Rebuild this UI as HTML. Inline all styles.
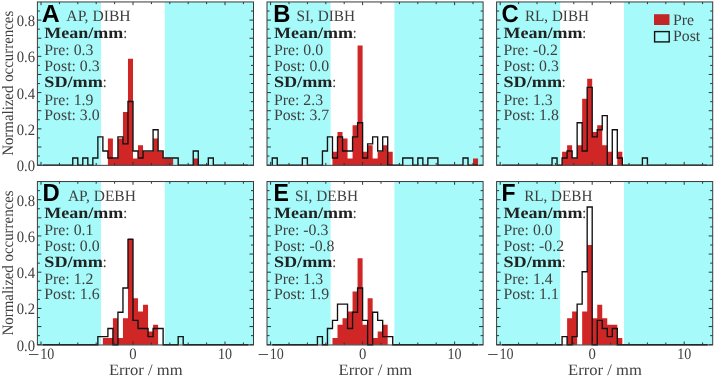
<!DOCTYPE html><html><head><meta charset="utf-8"><style>html,body{margin:0;padding:0;background:#fff;-webkit-font-smoothing:antialiased;}svg{display:block;will-change:transform;} text{text-rendering:geometricPrecision;}.s{font-family:"Liberation Serif",serif;fill:#404040;}.b{font-family:"Liberation Serif",serif;font-weight:bold;fill:#222;}.L{font-family:"Liberation Sans",sans-serif;font-weight:bold;fill:#000;}</style></head><body>
<svg width="714" height="380" viewBox="0 0 714 380">
<rect x="37.4" y="1.95" width="63.6" height="163.15" fill="#a6fafa"/>
<rect x="164.8" y="1.95" width="88.7" height="163.15" fill="#a6fafa"/>
<path d="M107.9 165.1H112.92V138.53H107.9ZM112.92 165.1H117.94V158.46H112.92ZM117.94 165.1H122.96V138.53H117.94ZM122.96 165.1H127.98V111.95H122.96ZM127.98 165.1H133V58.81H127.98ZM133 165.1H138.02V158.46H133ZM138.02 165.1H143.04V145.17H138.02ZM143.04 165.1H148.06V151.81H143.04ZM148.06 165.1H153.08V151.81H148.06ZM153.08 165.1H158.1V138.53H153.08ZM158.1 165.1H163.12V151.81H158.1ZM163.12 165.1H168.14V158.46H163.12ZM168.14 165.1H173.16V158.46H168.14ZM193.24 165.1H198.26V158.46H193.24Z" fill="#c80000" fill-opacity="0.85"/>
<path d="M42.64 165.1 L72.76 165.1 L72.76 158.03 L77.78 158.03 L77.78 165.1 L82.8 165.1 L82.8 158.03 L87.82 158.03 L87.82 165.1 L92.84 165.1 L92.84 158.03 L97.86 158.03 L97.86 136.83 L102.88 136.83 L102.88 150.97 L107.9 150.97 L107.9 158.03 L117.94 158.03 L117.94 136.83 L122.96 136.83 L122.96 143.9 L127.98 143.9 L127.98 101.49 L133 101.49 L133 150.97 L138.02 150.97 L138.02 158.03 L143.04 158.03 L143.04 150.97 L153.08 150.97 L153.08 129.76 L158.1 129.76 L158.1 150.97 L163.12 150.97 L163.12 158.03 L178.18 158.03 L178.18 165.1 L193.24 165.1 L193.24 150.97 L198.26 150.97 L198.26 165.1 L208.3 165.1 L208.3 158.03 L213.32 158.03 L213.32 165.1 L248.46 165.1" fill="none" stroke="#111" stroke-width="1.35" stroke-linejoin="miter"/>
<path d="M41 165.1 v-3.2 M41 1.95 v3.2 M59.4 165.1 v-2.2 M59.4 1.95 v2.2 M77.8 165.1 v-2.2 M77.8 1.95 v2.2 M96.2 165.1 v-2.2 M96.2 1.95 v2.2 M114.6 165.1 v-2.2 M114.6 1.95 v2.2 M133 165.1 v-3.2 M133 1.95 v3.2 M151.4 165.1 v-2.2 M151.4 1.95 v2.2 M169.8 165.1 v-2.2 M169.8 1.95 v2.2 M188.2 165.1 v-2.2 M188.2 1.95 v2.2 M206.6 165.1 v-2.2 M206.6 1.95 v2.2 M225 165.1 v-3.2 M225 1.95 v3.2 M243.4 165.1 v-2.2 M243.4 1.95 v2.2 M37.4 165.1 h4 M253.5 165.1 h-4 M37.4 156.04 h2.5 M253.5 156.04 h-2.5 M37.4 146.97 h4 M253.5 146.97 h-4 M37.4 137.91 h2.5 M253.5 137.91 h-2.5 M37.4 128.85 h4 M253.5 128.85 h-4 M37.4 119.79 h2.5 M253.5 119.79 h-2.5 M37.4 110.72 h4 M253.5 110.72 h-4 M37.4 101.66 h2.5 M253.5 101.66 h-2.5 M37.4 92.6 h4 M253.5 92.6 h-4 M37.4 83.54 h2.5 M253.5 83.54 h-2.5 M37.4 74.47 h4 M253.5 74.47 h-4 M37.4 65.41 h2.5 M253.5 65.41 h-2.5 M37.4 56.35 h4 M253.5 56.35 h-4 M37.4 47.29 h2.5 M253.5 47.29 h-2.5 M37.4 38.22 h4 M253.5 38.22 h-4 M37.4 29.16 h2.5 M253.5 29.16 h-2.5 M37.4 20.1 h4 M253.5 20.1 h-4 M37.4 11.04 h2.5 M253.5 11.04 h-2.5" stroke="#333" stroke-width="1" fill="none"/>
<rect x="37.4" y="1.95" width="216.1" height="163.4" fill="none" stroke="#3a3a3a" stroke-width="1.0"/>
<text class="L" x="41.8" y="21.75" font-size="24.8">A</text>
<text class="s" font-size="15.8" transform="translate(66.34 20.7) scale(0.99 1)">AP, DIBH</text>
<text class="b" font-size="15.8" transform="translate(44.3 38.15) scale(1.14 1)">Mean/mm</text>
<text class="s" x="122.9" y="38.15" font-size="15.8">:</text>
<text class="s" x="44.3" y="55.25" font-size="15.8">Pre: 0.3</text>
<text class="s" x="44.3" y="70.95" font-size="15.8">Post: 0.3</text>
<text class="b" font-size="15.8" transform="translate(44.3 87.35) scale(1.15 1)">SD/mm</text>
<text class="s" x="102.4" y="87.35" font-size="15.8">:</text>
<text class="s" x="44.3" y="104.65" font-size="15.8">Pre: 1.9</text>
<text class="s" x="44.3" y="119.85" font-size="15.8">Post: 3.0</text>
<rect x="267" y="1.95" width="63.6" height="163.15" fill="#a6fafa"/>
<rect x="394.4" y="1.95" width="88.7" height="163.15" fill="#a6fafa"/>
<path d="M332.48 165.1H337.5V151.81H332.48ZM337.5 165.1H342.52V131.88H337.5ZM342.52 165.1H347.54V138.53H342.52ZM347.54 165.1H352.56V158.46H347.54ZM352.56 165.1H357.58V125.24H352.56ZM357.58 165.1H362.6V45.52H357.58ZM362.6 165.1H367.62V151.81H362.6ZM367.62 165.1H372.64V145.17H367.62ZM372.64 165.1H377.66V158.46H372.64ZM377.66 165.1H382.68V151.81H377.66ZM382.68 165.1H387.7V145.17H382.68ZM387.7 165.1H392.72V151.81H387.7ZM473.04 165.1H478.06V158.46H473.04Z" fill="#c80000" fill-opacity="0.85"/>
<path d="M272.24 165.1 L272.24 158.03 L277.26 158.03 L277.26 165.1 L302.36 165.1 L302.36 158.03 L307.38 158.03 L307.38 165.1 L322.44 165.1 L322.44 150.97 L327.46 150.97 L327.46 136.83 L332.48 136.83 L332.48 158.03 L337.5 158.03 L337.5 136.83 L342.52 136.83 L342.52 150.97 L352.56 150.97 L352.56 136.83 L357.58 136.83 L357.58 122.7 L362.6 122.7 L362.6 158.03 L367.62 158.03 L367.62 143.9 L372.64 143.9 L372.64 136.83 L377.66 136.83 L377.66 150.97 L382.68 150.97 L382.68 136.83 L387.7 136.83 L387.7 165.1 L402.76 165.1 L402.76 158.03 L412.8 158.03 L412.8 165.1 L417.82 165.1 L417.82 158.03 L422.84 158.03 L422.84 165.1 L427.86 165.1 L427.86 158.03 L437.9 158.03 L437.9 165.1 L463 165.1 L463 158.03 L468.02 158.03 L468.02 165.1 L478.06 165.1" fill="none" stroke="#111" stroke-width="1.35" stroke-linejoin="miter"/>
<path d="M270.6 165.1 v-3.2 M270.6 1.95 v3.2 M289 165.1 v-2.2 M289 1.95 v2.2 M307.4 165.1 v-2.2 M307.4 1.95 v2.2 M325.8 165.1 v-2.2 M325.8 1.95 v2.2 M344.2 165.1 v-2.2 M344.2 1.95 v2.2 M362.6 165.1 v-3.2 M362.6 1.95 v3.2 M381 165.1 v-2.2 M381 1.95 v2.2 M399.4 165.1 v-2.2 M399.4 1.95 v2.2 M417.8 165.1 v-2.2 M417.8 1.95 v2.2 M436.2 165.1 v-2.2 M436.2 1.95 v2.2 M454.6 165.1 v-3.2 M454.6 1.95 v3.2 M473 165.1 v-2.2 M473 1.95 v2.2 M267 165.1 h4 M483.1 165.1 h-4 M267 156.04 h2.5 M483.1 156.04 h-2.5 M267 146.97 h4 M483.1 146.97 h-4 M267 137.91 h2.5 M483.1 137.91 h-2.5 M267 128.85 h4 M483.1 128.85 h-4 M267 119.79 h2.5 M483.1 119.79 h-2.5 M267 110.72 h4 M483.1 110.72 h-4 M267 101.66 h2.5 M483.1 101.66 h-2.5 M267 92.6 h4 M483.1 92.6 h-4 M267 83.54 h2.5 M483.1 83.54 h-2.5 M267 74.47 h4 M483.1 74.47 h-4 M267 65.41 h2.5 M483.1 65.41 h-2.5 M267 56.35 h4 M483.1 56.35 h-4 M267 47.29 h2.5 M483.1 47.29 h-2.5 M267 38.22 h4 M483.1 38.22 h-4 M267 29.16 h2.5 M483.1 29.16 h-2.5 M267 20.1 h4 M483.1 20.1 h-4 M267 11.04 h2.5 M483.1 11.04 h-2.5" stroke="#333" stroke-width="1" fill="none"/>
<rect x="267" y="1.95" width="216.1" height="163.4" fill="none" stroke="#3a3a3a" stroke-width="1.0"/>
<text class="L" font-size="24.8" transform="translate(273.2 21.75) scale(0.96 1)">B</text>
<text class="s" font-size="15.8" transform="translate(296.4 20.7) scale(0.97 1)">SI, DIBH</text>
<text class="b" font-size="15.8" transform="translate(273.9 38.15) scale(1.14 1)">Mean/mm</text>
<text class="s" x="352.5" y="38.15" font-size="15.8">:</text>
<text class="s" x="273.9" y="55.25" font-size="15.8">Pre: 0.0</text>
<text class="s" x="273.9" y="70.95" font-size="15.8">Post: 0.0</text>
<text class="b" font-size="15.8" transform="translate(273.9 87.35) scale(1.15 1)">SD/mm</text>
<text class="s" x="332" y="87.35" font-size="15.8">:</text>
<text class="s" x="273.9" y="104.65" font-size="15.8">Pre: 2.3</text>
<text class="s" x="273.9" y="119.85" font-size="15.8">Post: 3.7</text>
<rect x="496.6" y="1.95" width="63.6" height="163.15" fill="#a6fafa"/>
<rect x="624" y="1.95" width="88.7" height="163.15" fill="#a6fafa"/>
<path d="M562.08 165.1H567.1V151.81H562.08ZM567.1 165.1H572.12V145.17H567.1ZM572.12 165.1H577.14V158.46H572.12ZM577.14 165.1H582.16V145.17H577.14ZM582.16 165.1H587.18V98.67H582.16ZM587.18 165.1H592.2V78.74H587.18ZM592.2 165.1H597.22V131.88H592.2ZM597.22 165.1H602.24V125.24H597.22ZM602.24 165.1H607.26V145.17H602.24ZM607.26 165.1H612.28V151.81H607.26ZM617.3 165.1H622.32V151.81H617.3Z" fill="#c80000" fill-opacity="0.85"/>
<path d="M501.84 165.1 L552.04 165.1 L552.04 158.03 L557.06 158.03 L557.06 165.1 L562.08 165.1 L562.08 158.03 L567.1 158.03 L567.1 150.97 L572.12 150.97 L572.12 158.03 L577.14 158.03 L577.14 122.7 L582.16 122.7 L582.16 150.97 L587.18 150.97 L587.18 87.36 L592.2 87.36 L592.2 136.83 L597.22 136.83 L597.22 129.76 L602.24 129.76 L602.24 115.63 L607.26 115.63 L607.26 165.1 L612.28 165.1 L612.28 129.76 L617.3 129.76 L617.3 158.03 L622.32 158.03 L622.32 165.1 L642.4 165.1 L642.4 158.03 L647.42 158.03 L647.42 165.1 L707.66 165.1" fill="none" stroke="#111" stroke-width="1.35" stroke-linejoin="miter"/>
<path d="M500.2 165.1 v-3.2 M500.2 1.95 v3.2 M518.6 165.1 v-2.2 M518.6 1.95 v2.2 M537 165.1 v-2.2 M537 1.95 v2.2 M555.4 165.1 v-2.2 M555.4 1.95 v2.2 M573.8 165.1 v-2.2 M573.8 1.95 v2.2 M592.2 165.1 v-3.2 M592.2 1.95 v3.2 M610.6 165.1 v-2.2 M610.6 1.95 v2.2 M629 165.1 v-2.2 M629 1.95 v2.2 M647.4 165.1 v-2.2 M647.4 1.95 v2.2 M665.8 165.1 v-2.2 M665.8 1.95 v2.2 M684.2 165.1 v-3.2 M684.2 1.95 v3.2 M702.6 165.1 v-2.2 M702.6 1.95 v2.2 M496.6 165.1 h4 M712.7 165.1 h-4 M496.6 156.04 h2.5 M712.7 156.04 h-2.5 M496.6 146.97 h4 M712.7 146.97 h-4 M496.6 137.91 h2.5 M712.7 137.91 h-2.5 M496.6 128.85 h4 M712.7 128.85 h-4 M496.6 119.79 h2.5 M712.7 119.79 h-2.5 M496.6 110.72 h4 M712.7 110.72 h-4 M496.6 101.66 h2.5 M712.7 101.66 h-2.5 M496.6 92.6 h4 M712.7 92.6 h-4 M496.6 83.54 h2.5 M712.7 83.54 h-2.5 M496.6 74.47 h4 M712.7 74.47 h-4 M496.6 65.41 h2.5 M712.7 65.41 h-2.5 M496.6 56.35 h4 M712.7 56.35 h-4 M496.6 47.29 h2.5 M712.7 47.29 h-2.5 M496.6 38.22 h4 M712.7 38.22 h-4 M496.6 29.16 h2.5 M712.7 29.16 h-2.5 M496.6 20.1 h4 M712.7 20.1 h-4 M496.6 11.04 h2.5 M712.7 11.04 h-2.5" stroke="#333" stroke-width="1" fill="none"/>
<rect x="496.6" y="1.95" width="216.1" height="163.4" fill="none" stroke="#3a3a3a" stroke-width="1.0"/>
<text class="L" font-size="24.8" transform="translate(501.6 21.75) scale(0.96 1)">C</text>
<text class="s" font-size="15.8" transform="translate(524.96 20.7) scale(0.96 1)">RL, DIBH</text>
<text class="b" font-size="15.8" transform="translate(503.5 38.15) scale(1.14 1)">Mean/mm</text>
<text class="s" x="582.1" y="38.15" font-size="15.8">:</text>
<text class="s" x="503.5" y="55.25" font-size="15.8">Pre: -0.2</text>
<text class="s" x="503.5" y="70.95" font-size="15.8">Post: 0.3</text>
<text class="b" font-size="15.8" transform="translate(503.5 87.35) scale(1.15 1)">SD/mm</text>
<text class="s" x="561.6" y="87.35" font-size="15.8">:</text>
<text class="s" x="503.5" y="104.65" font-size="15.8">Pre: 1.3</text>
<text class="s" x="503.5" y="119.85" font-size="15.8">Post: 1.8</text>
<rect x="37.4" y="181.55" width="63.6" height="163.15" fill="#a6fafa"/>
<rect x="164.8" y="181.55" width="88.7" height="163.15" fill="#a6fafa"/>
<path d="M102.88 344.7H107.9V338.06H102.88ZM107.9 344.7H112.92V338.06H107.9ZM112.92 344.7H117.94V318.13H112.92ZM117.94 344.7H122.96V338.06H117.94ZM122.96 344.7H127.98V318.13H122.96ZM127.98 344.7H133V238.41H127.98ZM133 344.7H138.02V298.2H133ZM138.02 344.7H143.04V311.48H138.02ZM143.04 344.7H148.06V304.84H143.04ZM148.06 344.7H153.08V331.41H148.06ZM153.08 344.7H158.1V324.77H153.08Z" fill="#c80000" fill-opacity="0.85"/>
<path d="M42.64 344.7 L97.86 344.7 L97.86 336.6 L107.9 336.6 L107.9 328.5 L112.92 328.5 L112.92 344.7 L117.94 344.7 L117.94 312.29 L122.96 312.29 L122.96 287.99 L127.98 287.99 L127.98 239.38 L133 239.38 L133 320.39 L138.02 320.39 L138.02 328.5 L148.06 328.5 L148.06 336.6 L153.08 336.6 L153.08 328.5 L163.12 328.5 L163.12 344.7 L178.18 344.7 L178.18 336.6 L183.2 336.6 L183.2 344.7 L248.46 344.7" fill="none" stroke="#111" stroke-width="1.35" stroke-linejoin="miter"/>
<path d="M41 344.7 v-3.2 M41 181.55 v3.2 M59.4 344.7 v-2.2 M59.4 181.55 v2.2 M77.8 344.7 v-2.2 M77.8 181.55 v2.2 M96.2 344.7 v-2.2 M96.2 181.55 v2.2 M114.6 344.7 v-2.2 M114.6 181.55 v2.2 M133 344.7 v-3.2 M133 181.55 v3.2 M151.4 344.7 v-2.2 M151.4 181.55 v2.2 M169.8 344.7 v-2.2 M169.8 181.55 v2.2 M188.2 344.7 v-2.2 M188.2 181.55 v2.2 M206.6 344.7 v-2.2 M206.6 181.55 v2.2 M225 344.7 v-3.2 M225 181.55 v3.2 M243.4 344.7 v-2.2 M243.4 181.55 v2.2 M37.4 344.7 h4 M253.5 344.7 h-4 M37.4 335.64 h2.5 M253.5 335.64 h-2.5 M37.4 326.57 h4 M253.5 326.57 h-4 M37.4 317.51 h2.5 M253.5 317.51 h-2.5 M37.4 308.45 h4 M253.5 308.45 h-4 M37.4 299.39 h2.5 M253.5 299.39 h-2.5 M37.4 290.32 h4 M253.5 290.32 h-4 M37.4 281.26 h2.5 M253.5 281.26 h-2.5 M37.4 272.2 h4 M253.5 272.2 h-4 M37.4 263.14 h2.5 M253.5 263.14 h-2.5 M37.4 254.07 h4 M253.5 254.07 h-4 M37.4 245.01 h2.5 M253.5 245.01 h-2.5 M37.4 235.95 h4 M253.5 235.95 h-4 M37.4 226.89 h2.5 M253.5 226.89 h-2.5 M37.4 217.82 h4 M253.5 217.82 h-4 M37.4 208.76 h2.5 M253.5 208.76 h-2.5 M37.4 199.7 h4 M253.5 199.7 h-4 M37.4 190.64 h2.5 M253.5 190.64 h-2.5" stroke="#333" stroke-width="1" fill="none"/>
<rect x="37.4" y="181.55" width="216.1" height="163.4" fill="none" stroke="#3a3a3a" stroke-width="1.0"/>
<text class="L" font-size="24.8" transform="translate(42.4 201.35) scale(0.96 1)">D</text>
<text class="s" font-size="15.8" transform="translate(67.9 201) scale(0.98 1)">AP, DEBH</text>
<text class="b" font-size="15.8" transform="translate(44.3 217.75) scale(1.14 1)">Mean/mm</text>
<text class="s" x="122.9" y="217.75" font-size="15.8">:</text>
<text class="s" x="44.3" y="234.85" font-size="15.8">Pre: 0.1</text>
<text class="s" x="44.3" y="250.55" font-size="15.8">Post: 0.0</text>
<text class="b" font-size="15.8" transform="translate(44.3 266.95) scale(1.15 1)">SD/mm</text>
<text class="s" x="102.4" y="266.95" font-size="15.8">:</text>
<text class="s" x="44.3" y="284.25" font-size="15.8">Pre: 1.2</text>
<text class="s" x="44.3" y="299.45" font-size="15.8">Post: 1.6</text>
<rect x="267" y="181.55" width="63.6" height="163.15" fill="#a6fafa"/>
<rect x="394.4" y="181.55" width="88.7" height="163.15" fill="#a6fafa"/>
<path d="M332.48 344.7H337.5V338.06H332.48ZM337.5 344.7H342.52V324.77H337.5ZM342.52 344.7H347.54V318.13H342.52ZM347.54 344.7H352.56V311.48H347.54ZM352.56 344.7H357.58V291.55H352.56ZM357.58 344.7H362.6V258.34H357.58ZM362.6 344.7H367.62V324.77H362.6ZM367.62 344.7H372.64V298.2H367.62ZM372.64 344.7H377.66V338.06H372.64ZM377.66 344.7H382.68V331.41H377.66ZM382.68 344.7H387.7V324.77H382.68Z" fill="#c80000" fill-opacity="0.85"/>
<path d="M272.24 344.7 L317.42 344.7 L317.42 336.6 L322.44 336.6 L322.44 344.7 L327.46 344.7 L327.46 328.5 L332.48 328.5 L332.48 320.39 L337.5 320.39 L337.5 304.19 L347.54 304.19 L347.54 328.5 L352.56 328.5 L352.56 312.29 L357.58 312.29 L357.58 287.99 L362.6 287.99 L362.6 320.39 L367.62 320.39 L367.62 344.7 L372.64 344.7 L372.64 312.29 L377.66 312.29 L377.66 320.39 L382.68 320.39 L382.68 336.6 L392.72 336.6 L392.72 344.7 L478.06 344.7" fill="none" stroke="#111" stroke-width="1.35" stroke-linejoin="miter"/>
<path d="M270.6 344.7 v-3.2 M270.6 181.55 v3.2 M289 344.7 v-2.2 M289 181.55 v2.2 M307.4 344.7 v-2.2 M307.4 181.55 v2.2 M325.8 344.7 v-2.2 M325.8 181.55 v2.2 M344.2 344.7 v-2.2 M344.2 181.55 v2.2 M362.6 344.7 v-3.2 M362.6 181.55 v3.2 M381 344.7 v-2.2 M381 181.55 v2.2 M399.4 344.7 v-2.2 M399.4 181.55 v2.2 M417.8 344.7 v-2.2 M417.8 181.55 v2.2 M436.2 344.7 v-2.2 M436.2 181.55 v2.2 M454.6 344.7 v-3.2 M454.6 181.55 v3.2 M473 344.7 v-2.2 M473 181.55 v2.2 M267 344.7 h4 M483.1 344.7 h-4 M267 335.64 h2.5 M483.1 335.64 h-2.5 M267 326.57 h4 M483.1 326.57 h-4 M267 317.51 h2.5 M483.1 317.51 h-2.5 M267 308.45 h4 M483.1 308.45 h-4 M267 299.39 h2.5 M483.1 299.39 h-2.5 M267 290.32 h4 M483.1 290.32 h-4 M267 281.26 h2.5 M483.1 281.26 h-2.5 M267 272.2 h4 M483.1 272.2 h-4 M267 263.14 h2.5 M483.1 263.14 h-2.5 M267 254.07 h4 M483.1 254.07 h-4 M267 245.01 h2.5 M483.1 245.01 h-2.5 M267 235.95 h4 M483.1 235.95 h-4 M267 226.89 h2.5 M483.1 226.89 h-2.5 M267 217.82 h4 M483.1 217.82 h-4 M267 208.76 h2.5 M483.1 208.76 h-2.5 M267 199.7 h4 M483.1 199.7 h-4 M267 190.64 h2.5 M483.1 190.64 h-2.5" stroke="#333" stroke-width="1" fill="none"/>
<rect x="267" y="181.55" width="216.1" height="163.4" fill="none" stroke="#3a3a3a" stroke-width="1.0"/>
<text class="L" font-size="24.8" transform="translate(273.4 201.35) scale(0.93 1)">E</text>
<text class="s" font-size="15.8" transform="translate(295 201) scale(0.97 1)">SI, DEBH</text>
<text class="b" font-size="15.8" transform="translate(273.9 217.75) scale(1.14 1)">Mean/mm</text>
<text class="s" x="352.5" y="217.75" font-size="15.8">:</text>
<text class="s" x="273.9" y="234.85" font-size="15.8">Pre: -0.3</text>
<text class="s" x="273.9" y="250.55" font-size="15.8">Post: -0.8</text>
<text class="b" font-size="15.8" transform="translate(273.9 266.95) scale(1.15 1)">SD/mm</text>
<text class="s" x="332" y="266.95" font-size="15.8">:</text>
<text class="s" x="273.9" y="284.25" font-size="15.8">Pre: 1.3</text>
<text class="s" x="273.9" y="299.45" font-size="15.8">Post: 1.9</text>
<rect x="496.6" y="181.55" width="63.6" height="163.15" fill="#a6fafa"/>
<rect x="624" y="181.55" width="88.7" height="163.15" fill="#a6fafa"/>
<path d="M567.1 344.7H572.12V318.13H567.1ZM572.12 344.7H577.14V311.48H572.12ZM582.16 344.7H587.18V311.48H582.16ZM587.18 344.7H592.2V245.05H587.18ZM592.2 344.7H597.22V318.13H592.2ZM597.22 344.7H602.24V304.84H597.22ZM602.24 344.7H607.26V318.13H602.24ZM607.26 344.7H612.28V324.77H607.26ZM612.28 344.7H617.3V324.77H612.28ZM617.3 344.7H622.32V338.06H617.3Z" fill="#c80000" fill-opacity="0.85"/>
<path d="M501.84 344.7 L562.08 344.7 L562.08 336.6 L567.1 336.6 L567.1 344.7 L572.12 344.7 L572.12 336.6 L577.14 336.6 L577.14 304.19 L582.16 304.19 L582.16 271.78 L587.18 271.78 L587.18 206.97 L592.2 206.97 L592.2 344.7 L597.22 344.7 L597.22 320.39 L602.24 320.39 L602.24 328.5 L607.26 328.5 L607.26 336.6 L612.28 336.6 L612.28 328.5 L617.3 328.5 L617.3 344.7 L707.66 344.7" fill="none" stroke="#111" stroke-width="1.35" stroke-linejoin="miter"/>
<path d="M500.2 344.7 v-3.2 M500.2 181.55 v3.2 M518.6 344.7 v-2.2 M518.6 181.55 v2.2 M537 344.7 v-2.2 M537 181.55 v2.2 M555.4 344.7 v-2.2 M555.4 181.55 v2.2 M573.8 344.7 v-2.2 M573.8 181.55 v2.2 M592.2 344.7 v-3.2 M592.2 181.55 v3.2 M610.6 344.7 v-2.2 M610.6 181.55 v2.2 M629 344.7 v-2.2 M629 181.55 v2.2 M647.4 344.7 v-2.2 M647.4 181.55 v2.2 M665.8 344.7 v-2.2 M665.8 181.55 v2.2 M684.2 344.7 v-3.2 M684.2 181.55 v3.2 M702.6 344.7 v-2.2 M702.6 181.55 v2.2 M496.6 344.7 h4 M712.7 344.7 h-4 M496.6 335.64 h2.5 M712.7 335.64 h-2.5 M496.6 326.57 h4 M712.7 326.57 h-4 M496.6 317.51 h2.5 M712.7 317.51 h-2.5 M496.6 308.45 h4 M712.7 308.45 h-4 M496.6 299.39 h2.5 M712.7 299.39 h-2.5 M496.6 290.32 h4 M712.7 290.32 h-4 M496.6 281.26 h2.5 M712.7 281.26 h-2.5 M496.6 272.2 h4 M712.7 272.2 h-4 M496.6 263.14 h2.5 M712.7 263.14 h-2.5 M496.6 254.07 h4 M712.7 254.07 h-4 M496.6 245.01 h2.5 M712.7 245.01 h-2.5 M496.6 235.95 h4 M712.7 235.95 h-4 M496.6 226.89 h2.5 M712.7 226.89 h-2.5 M496.6 217.82 h4 M712.7 217.82 h-4 M496.6 208.76 h2.5 M712.7 208.76 h-2.5 M496.6 199.7 h4 M712.7 199.7 h-4 M496.6 190.64 h2.5 M712.7 190.64 h-2.5" stroke="#333" stroke-width="1" fill="none"/>
<rect x="496.6" y="181.55" width="216.1" height="163.4" fill="none" stroke="#3a3a3a" stroke-width="1.0"/>
<text class="L" font-size="24.8" transform="translate(501.5 201.35) scale(0.93 1)">F</text>
<text class="s" font-size="15.8" transform="translate(524.16 201) scale(0.96 1)">RL, DEBH</text>
<text class="b" font-size="15.8" transform="translate(503.5 217.75) scale(1.14 1)">Mean/mm</text>
<text class="s" x="582.1" y="217.75" font-size="15.8">:</text>
<text class="s" x="503.5" y="234.85" font-size="15.8">Pre: 0.0</text>
<text class="s" x="503.5" y="250.55" font-size="15.8">Post: -0.2</text>
<text class="b" font-size="15.8" transform="translate(503.5 266.95) scale(1.15 1)">SD/mm</text>
<text class="s" x="561.6" y="266.95" font-size="15.8">:</text>
<text class="s" x="503.5" y="284.25" font-size="15.8">Pre: 1.4</text>
<text class="s" x="503.5" y="299.45" font-size="15.8">Post: 1.1</text>
<text class="s" font-size="15.8" text-anchor="middle" transform="translate(47.2 359.1) scale(0.89 1)">10</text>
<text class="s" font-size="15.8" text-anchor="middle" transform="translate(133 359.1) scale(0.93 1)">0</text>
<text class="s" font-size="15.8" text-anchor="middle" transform="translate(225 359.1) scale(0.89 1)">10</text>
<rect x="28.95" y="354.1" width="9.5" height="0.9" fill="#404040"/>
<text class="s" font-size="15.8" text-anchor="middle" transform="translate(145.75 375) scale(1.05 1)">Error / mm</text>
<text class="s" font-size="15.8" text-anchor="middle" transform="translate(276.8 359.1) scale(0.89 1)">10</text>
<text class="s" font-size="15.8" text-anchor="middle" transform="translate(362.6 359.1) scale(0.93 1)">0</text>
<text class="s" font-size="15.8" text-anchor="middle" transform="translate(454.6 359.1) scale(0.89 1)">10</text>
<rect x="258.55" y="354.1" width="9.5" height="0.9" fill="#404040"/>
<text class="s" font-size="15.8" text-anchor="middle" transform="translate(375.35 375) scale(1.05 1)">Error / mm</text>
<text class="s" font-size="15.8" text-anchor="middle" transform="translate(506.4 359.1) scale(0.89 1)">10</text>
<text class="s" font-size="15.8" text-anchor="middle" transform="translate(592.2 359.1) scale(0.93 1)">0</text>
<text class="s" font-size="15.8" text-anchor="middle" transform="translate(684.2 359.1) scale(0.89 1)">10</text>
<rect x="488.15" y="354.1" width="9.5" height="0.9" fill="#404040"/>
<text class="s" font-size="15.8" text-anchor="middle" transform="translate(604.95 375) scale(1.05 1)">Error / mm</text>
<text class="s" font-size="15.8" text-anchor="end" transform="translate(35.1 171) scale(0.93 1)">0.0</text>
<text class="s" font-size="15.8" text-anchor="end" transform="translate(35.1 134.75) scale(0.93 1)">0.2</text>
<text class="s" font-size="15.8" text-anchor="end" transform="translate(35.1 98.5) scale(0.93 1)">0.4</text>
<text class="s" font-size="15.8" text-anchor="end" transform="translate(35.1 62.25) scale(0.93 1)">0.6</text>
<text class="s" font-size="15.8" text-anchor="end" transform="translate(35.1 26) scale(0.93 1)">0.8</text>
<text class="s" font-size="15.8" text-anchor="middle" textLength="145" lengthAdjust="spacingAndGlyphs" transform="translate(12.7 83.32) rotate(-90)">Normalized occurrences</text>
<text class="s" font-size="15.8" text-anchor="end" transform="translate(35.1 350.6) scale(0.93 1)">0.0</text>
<text class="s" font-size="15.8" text-anchor="end" transform="translate(35.1 314.35) scale(0.93 1)">0.2</text>
<text class="s" font-size="15.8" text-anchor="end" transform="translate(35.1 278.1) scale(0.93 1)">0.4</text>
<text class="s" font-size="15.8" text-anchor="end" transform="translate(35.1 241.85) scale(0.93 1)">0.6</text>
<text class="s" font-size="15.8" text-anchor="end" transform="translate(35.1 205.6) scale(0.93 1)">0.8</text>
<text class="s" font-size="15.8" text-anchor="middle" textLength="145" lengthAdjust="spacingAndGlyphs" transform="translate(12.7 262.93) rotate(-90)">Normalized occurrences</text>
<rect x="654" y="14.2" width="15.5" height="10.8" fill="#c80000" fill-opacity="0.85"/>
<rect x="654.6" y="31.6" width="14.6" height="10.3" fill="none" stroke="#111" stroke-width="1.4"/>
<text class="s" x="673" y="25" font-size="15.8">Pre</text>
<text class="s" x="673" y="41.4" font-size="15.8">Post</text>
</svg></body></html>
